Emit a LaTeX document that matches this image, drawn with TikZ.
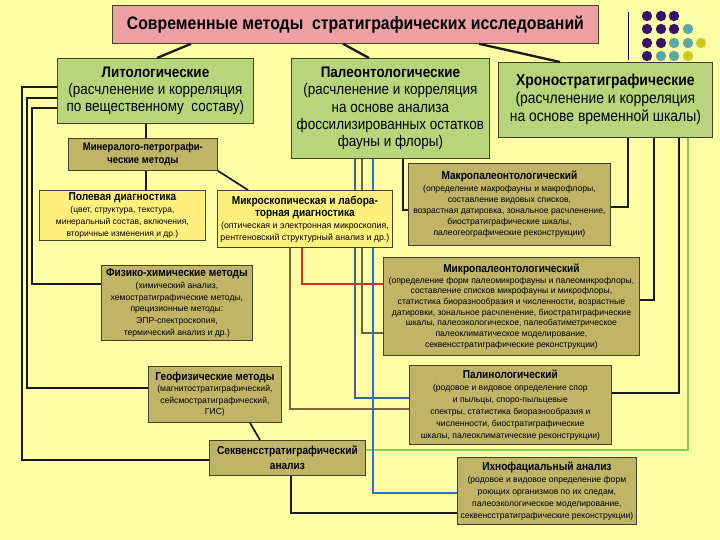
\documentclass[tikz,border=0pt]{standalone}
\usepackage{fontspec}
\setmainfont{Liberation Sans}[FakeStretch=0.88]
\newfontfamily\smfam{Liberation Sans}
\usetikzlibrary{calc}
\definecolor{bg}{RGB}{255,255,165}
\definecolor{pinkfill}{RGB}{238,160,165}
\definecolor{greenfill}{RGB}{183,214,124}
\definecolor{olivefill}{RGB}{192,180,102}
\definecolor{yellowfill}{RGB}{255,240,125}
\definecolor{boxline}{RGB}{70,65,45}
\definecolor{redl}{RGB}{225,40,40}
\definecolor{brownl}{RGB}{140,95,65}
\definecolor{olivel}{RGB}{105,100,65}
\definecolor{slatel}{RGB}{60,105,135}
\definecolor{bluel}{RGB}{45,110,215}
\definecolor{greenl}{RGB}{140,200,80}
\definecolor{purpd}{RGB}{55,20,105}
\definecolor{teald}{RGB}{95,165,170}
\definecolor{yeld}{RGB}{205,200,40}
\tikzset{
 box/.style={draw=boxline, line width=0.8pt, align=center, inner sep=1pt, anchor=north west},
 gbox/.style={box, fill=greenfill, font=\fontsize{15.3}{17.3}\selectfont},
 obox/.style={box, fill=olivefill, font=\smfam\fontsize{8.6}{11}\selectfont},
 ybox/.style={box, fill=yellowfill, font=\smfam\fontsize{8.5}{12}\selectfont},
 conn/.style={line width=1.7pt, draw=black!90},
 tconn/.style={line width=2.3pt, draw=black!90},
 cl/.style={line width=1.7pt},
}
\newcommand{\hd}[1]{{\rmfamily\fontsize{11.5}{13}\selectfont\bfseries #1}}
\begin{document}
\begin{tikzpicture}[x=1pt,y=-1pt]
\fill[bg] (0,0) rectangle (720,540);
\useasboundingbox (0,0) rectangle (720,540);
% nodes
\node[box, fill=pinkfill, minimum width=486pt, minimum height=38pt, font=\fontsize{18}{20}\selectfont\bfseries] (title) at (112,5) {Современные методы\ \ стратиграфических исследований};
\node[gbox, minimum width=196pt, minimum height=65pt] (litho) at (57,58) {{\bfseries Литологические}\\(расчленение и корреляция\\по вещественному\ \ составу)};
\node[gbox, minimum width=198pt, minimum height=100pt] (paleo) at (291,58) {{\bfseries Палеонтологические}\\(расчленение и корреляция\\на основе анализа\\фоссилизированных остатков\\фауны и флоры)};
\node[gbox, minimum width=214pt, minimum height=75pt, font=\fontsize{15.8}{18}\selectfont] (chrono) at (498,62) {{\bfseries Хроностратиграфические}\\(расчленение и корреляция\\на основе временной шкалы)};
% connectors (drawn before the lower boxes)
\draw[tconn] (191,0 |- title.south) -- (157,0 |- litho.north);
\draw[tconn] (343,0 |- title.south) -- (369,0 |- paleo.north);
\draw[tconn] (479,0 |- title.south) -- (560,0 |- chrono.north);
\node[box, fill=olivefill, minimum width=149pt, minimum height=32pt, font=\fontsize{10.8}{13}\selectfont\bfseries] (mineral) at (68,138) {Минералого-петрографи-\\ческие методы};
\node[ybox, minimum width=166pt, minimum height=50pt] (field) at (39,190) {\hd{Полевая диагностика}\\(цвет, структура, текстура,\\минеральный состав, включения,\\вторичные изменения и др.)};
\node[obox, minimum width=202pt, minimum height=82pt] (macro) at (408,163) {\hd{Макропалеонтологический}\\[1pt](определение макрофауны и макрофлоры,\\составление видовых списков,\\возрастная датировка, зональное расчленение,\\биостратиграфические шкалы,\\палеогеографические реконструкции)};
\node[obox, minimum width=256pt, minimum height=98pt, font=\smfam\fontsize{8.6}{10.7}\selectfont] (micro) at (383,257) {\hd{Микропалеонтологический}\\(определение форм палеомикрофауны и палеомикрофлоры,\\составление списков микрофауны и микрофлоры,\\статистика биоразнообразия и численности, возрастные\\датировки, зональное расчленение, биостратиграфические\\шкалы, палеоэкологическое, палеобатиметрическое\\палеоклиматическое моделирование,\\секвенсстратиграфические реконструкции)};
\node[obox, minimum width=151pt, minimum height=75pt, font=\smfam\fontsize{8.6}{11.7}\selectfont] (phys) at (101,265) {\hd{Физико-химические методы}\\(химический анализ,\\хемостратиграфические методы,\\прецизионные методы:\\ЭПР-спектроскопия,\\термический анализ и др.)};
\node[obox, minimum width=133pt, minimum height=56pt, font=\smfam\fontsize{8.6}{11.5}\selectfont] (geo) at (148,366) {\hd{Геофизические методы}\\(магнитостратиграфический,\\сейсмостратиграфический,\\ГИС)};
\node[obox, minimum width=202pt, minimum height=79pt, font=\smfam\fontsize{8.6}{12}\selectfont] (palino) at (409,365) {\hd{Палинологический}\\(родовое и видовое определение спор\\и пыльцы, споро-пыльцевые\\спектры, статистика биоразнообразия и\\численности, биостратиграфические\\шкалы, палеоклиматические реконструкции)};
\node[obox, minimum width=179pt, minimum height=67pt, font=\smfam\fontsize{8.6}{12}\selectfont] (ichno) at (457,457) {\hd{Ихнофациальный анализ}\\(родовое и видовое определение форм\\роющих организмов по их следам,\\палеоэкологическое моделирование,\\секвенсстратиграфические реконструкции)};
\node[obox, minimum width=156pt, minimum height=35pt, font=\fontsize{11.5}{14.5}\selectfont\bfseries] (seq) at (209,440) {Секвенсстратиграфический\\анализ};
% connectors
\draw[conn] (146,0 |- litho.south) -- (146,0 |- mineral.north);
\draw[conn] (146,0 |- mineral.south) -- (146,0 |- field.north);
\draw[conn] (mineral.south east) -- (248,0 |- 0,190);
\draw[conn] (litho.west |- 0,87) -- (22,87) |- (seq.west |- 0,460);
\draw[conn] (litho.west |- 0,98) -- (27,98) |- (geo.west |- 0,388);
\draw[conn] (litho.west |- 0,108) -- (32,108) |- (phys.west |- 0,284);
\draw[conn] (250,0 |- geo.south) -- (260,0 |- seq.north);
\draw[conn] (291,0 |- seq.south) |- (ichno.west |- 0,513);
\draw[cl, greenl] (688,0 |- chrono.south) |- (seq.east |- 0,450);
\draw[cl, brownl] (290,0 |- 0,247) |- (palino.west |- 0,409);
\draw[cl, redl] (302,0 |- 0,247) |- (micro.west |- 0,284);
\draw[cl, olivel] (362,0 |- paleo.south) |- (micro.west |- 0,333);
\draw[cl, slatel] (355,0 |- paleo.south) |- (palino.west |- 0,398);
\draw[cl, bluel] (373,0 |- paleo.south) |- (ichno.west |- 0,493);
\draw[conn] (403,0 |- paleo.south) |- (macro.west |- 0,210);
\draw[conn] (628,0 |- chrono.south) |- (macro.east |- 0,207);
\draw[conn] (654,0 |- chrono.south) |- (micro.east |- 0,300);
\draw[conn] (679,0 |- chrono.south) |- (palino.east |- 0,393);
% microscopic diagnostic box on top of paleo lines
\node[ybox, minimum width=175pt, minimum height=57pt, font=\smfam\fontsize{8.8}{12}\selectfont] (micdiag) at (217,190) {\hd{Микроскопическая и лабора-}\\\hd{торная диагностика}\\(оптическая и электронная микроскопия,\\рентгеновский структурный анализ и др.)};
% decoration
\draw[line width=0.8pt] (628,12) -- (628,60);
\foreach \c/\x/\y in {purpd/647/16,purpd/661/16,purpd/674/16,
 purpd/647/29,purpd/661/29,purpd/674/29,teald/688/29,
 purpd/647/43,purpd/661/43,teald/674/43,teald/688/43,yeld/701/43,
 purpd/647/56,teald/661/56,teald/674/56,yeld/688/56}
 \fill[\c] (\x,\y) circle (5.2pt);
\end{tikzpicture}
\end{document}
